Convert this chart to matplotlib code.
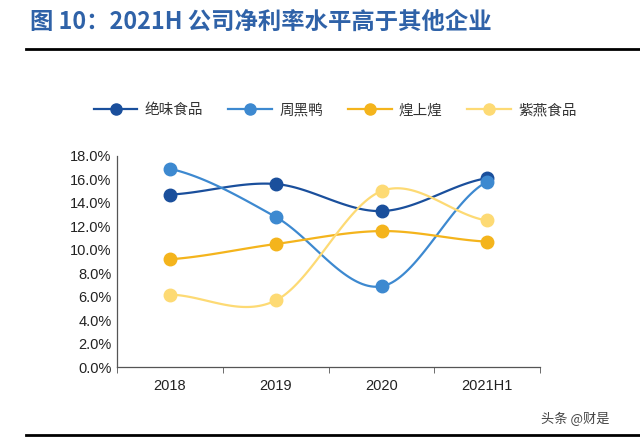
import numpy as np
import matplotlib
matplotlib.use("Agg")
import matplotlib.pyplot as plt
from matplotlib.ticker import FuncFormatter, FixedLocator

plt.rcParams['font.family'] = ['Noto Sans CJK SC', 'DejaVu Sans']

# --- data (net profit margin, %) ---
years = ["2018", "2019", "2020", "2021H1"]
juewei = [14.7, 15.6, 13.3, 16.1]
zhouheiya = [16.9, 12.8, 6.9, 15.8]
huangshanghuang = [9.2, 10.5, 11.6, 10.7]
ziyan = [6.2, 5.7, 15.0, 12.5]

series = [
    ("绝味食品", juewei, "#1A4F9C"),
    ("周黑鸭", zhouheiya, "#3D89D0"),
    ("煌上煌", huangshanghuang, "#F4B41C"),
    ("紫燕食品", ziyan, "#FDDA74"),
]


def smooth(x, y, n=40):
    # Catmull-Rom style curve through the points (like Excel smoothed lines)
    x = np.asarray(x, float)
    y = np.asarray(y, float)
    px = np.concatenate([[2 * x[0] - x[1]], x, [2 * x[-1] - x[-2]]])
    py = np.concatenate([[y[0]], y, [y[-1]]])
    xs, ys = [], []
    for i in range(1, len(px) - 2):
        p0, p1, p2, p3 = [np.array([px[j], py[j]]) for j in (i - 1, i, i + 1, i + 2)]
        c1 = p1 + (p2 - p0) / 6
        c2 = p2 - (p3 - p1) / 6
        t = np.linspace(0, 1, n)[:, None]
        pts = ((1 - t) ** 3) * p1 + 3 * ((1 - t) ** 2) * t * c1 + 3 * (1 - t) * t ** 2 * c2 + t ** 3 * p2
        xs.append(pts[:, 0])
        ys.append(pts[:, 1])
    return np.concatenate(xs), np.concatenate(ys)


fig = plt.figure(figsize=(6.4, 4.41), dpi=100)
ax = fig.add_axes([0.183, 0.1667, 0.661, 0.48])

x = np.arange(len(years))
for name, vals, col in series:
    sx, sy = smooth(x, vals)
    ax.plot(sx, sy, color=col, lw=1.6, zorder=2)
    ax.plot(x, vals, "o", color=col, ms=9, zorder=3)
    ax.plot([], [], "-o", color=col, lw=1.6, ms=8, label=name)

tick_font = ["Liberation Sans", "DejaVu Sans"]
ax.set_xlim(-0.5, 3.5)
ax.set_ylim(0, 18)
ax.set_yticks(np.arange(0, 18.1, 2))
ax.yaxis.set_major_formatter(FuncFormatter(lambda v, p: f"{v:.1f}%"))
ax.set_xticks(x)
ax.set_xticklabels(years)
ax.xaxis.set_minor_locator(FixedLocator([-0.5, 0.5, 1.5, 2.5, 3.5]))
ax.tick_params(axis="x", which="major", length=0, pad=8, labelsize=10.5, colors="#222222")
ax.tick_params(axis="x", which="minor", length=4, direction="out", color="#555555")
ax.tick_params(axis="y", length=0, pad=4, labelsize=10.5, colors="#222222")
for lab in ax.get_xticklabels() + ax.get_yticklabels():
    lab.set_family(tick_font)
for s in ["top", "right"]:
    ax.spines[s].set_visible(False)
for s in ["left", "bottom"]:
    ax.spines[s].set_color("#555555")
    ax.spines[s].set_linewidth(0.9)

leg = fig.legend(loc="center", bbox_to_anchor=(0.524, 0.75), ncol=4, frameon=False,
                 fontsize=10.5, handlelength=3.0, columnspacing=1.7, handletextpad=0.5)
for t in leg.get_texts():
    t.set_color("#333333")

fig.text(0.047, 0.95, "图 10：2021H 公司净利率水平高于其他企业", fontsize=16.8, fontweight="bold",
         color="#2F62A8", va="center")
fig.add_artist(plt.Line2D([0.04, 1.0], [0.888, 0.888], color="black", lw=2))
fig.add_artist(plt.Line2D([0.04, 1.0], [0.013, 0.013], color="black", lw=2))
fig.text(0.845, 0.05, "头条 @财是", fontsize=9.5, color="#444444", va="center")

fig.savefig("out.png", dpi=100)
